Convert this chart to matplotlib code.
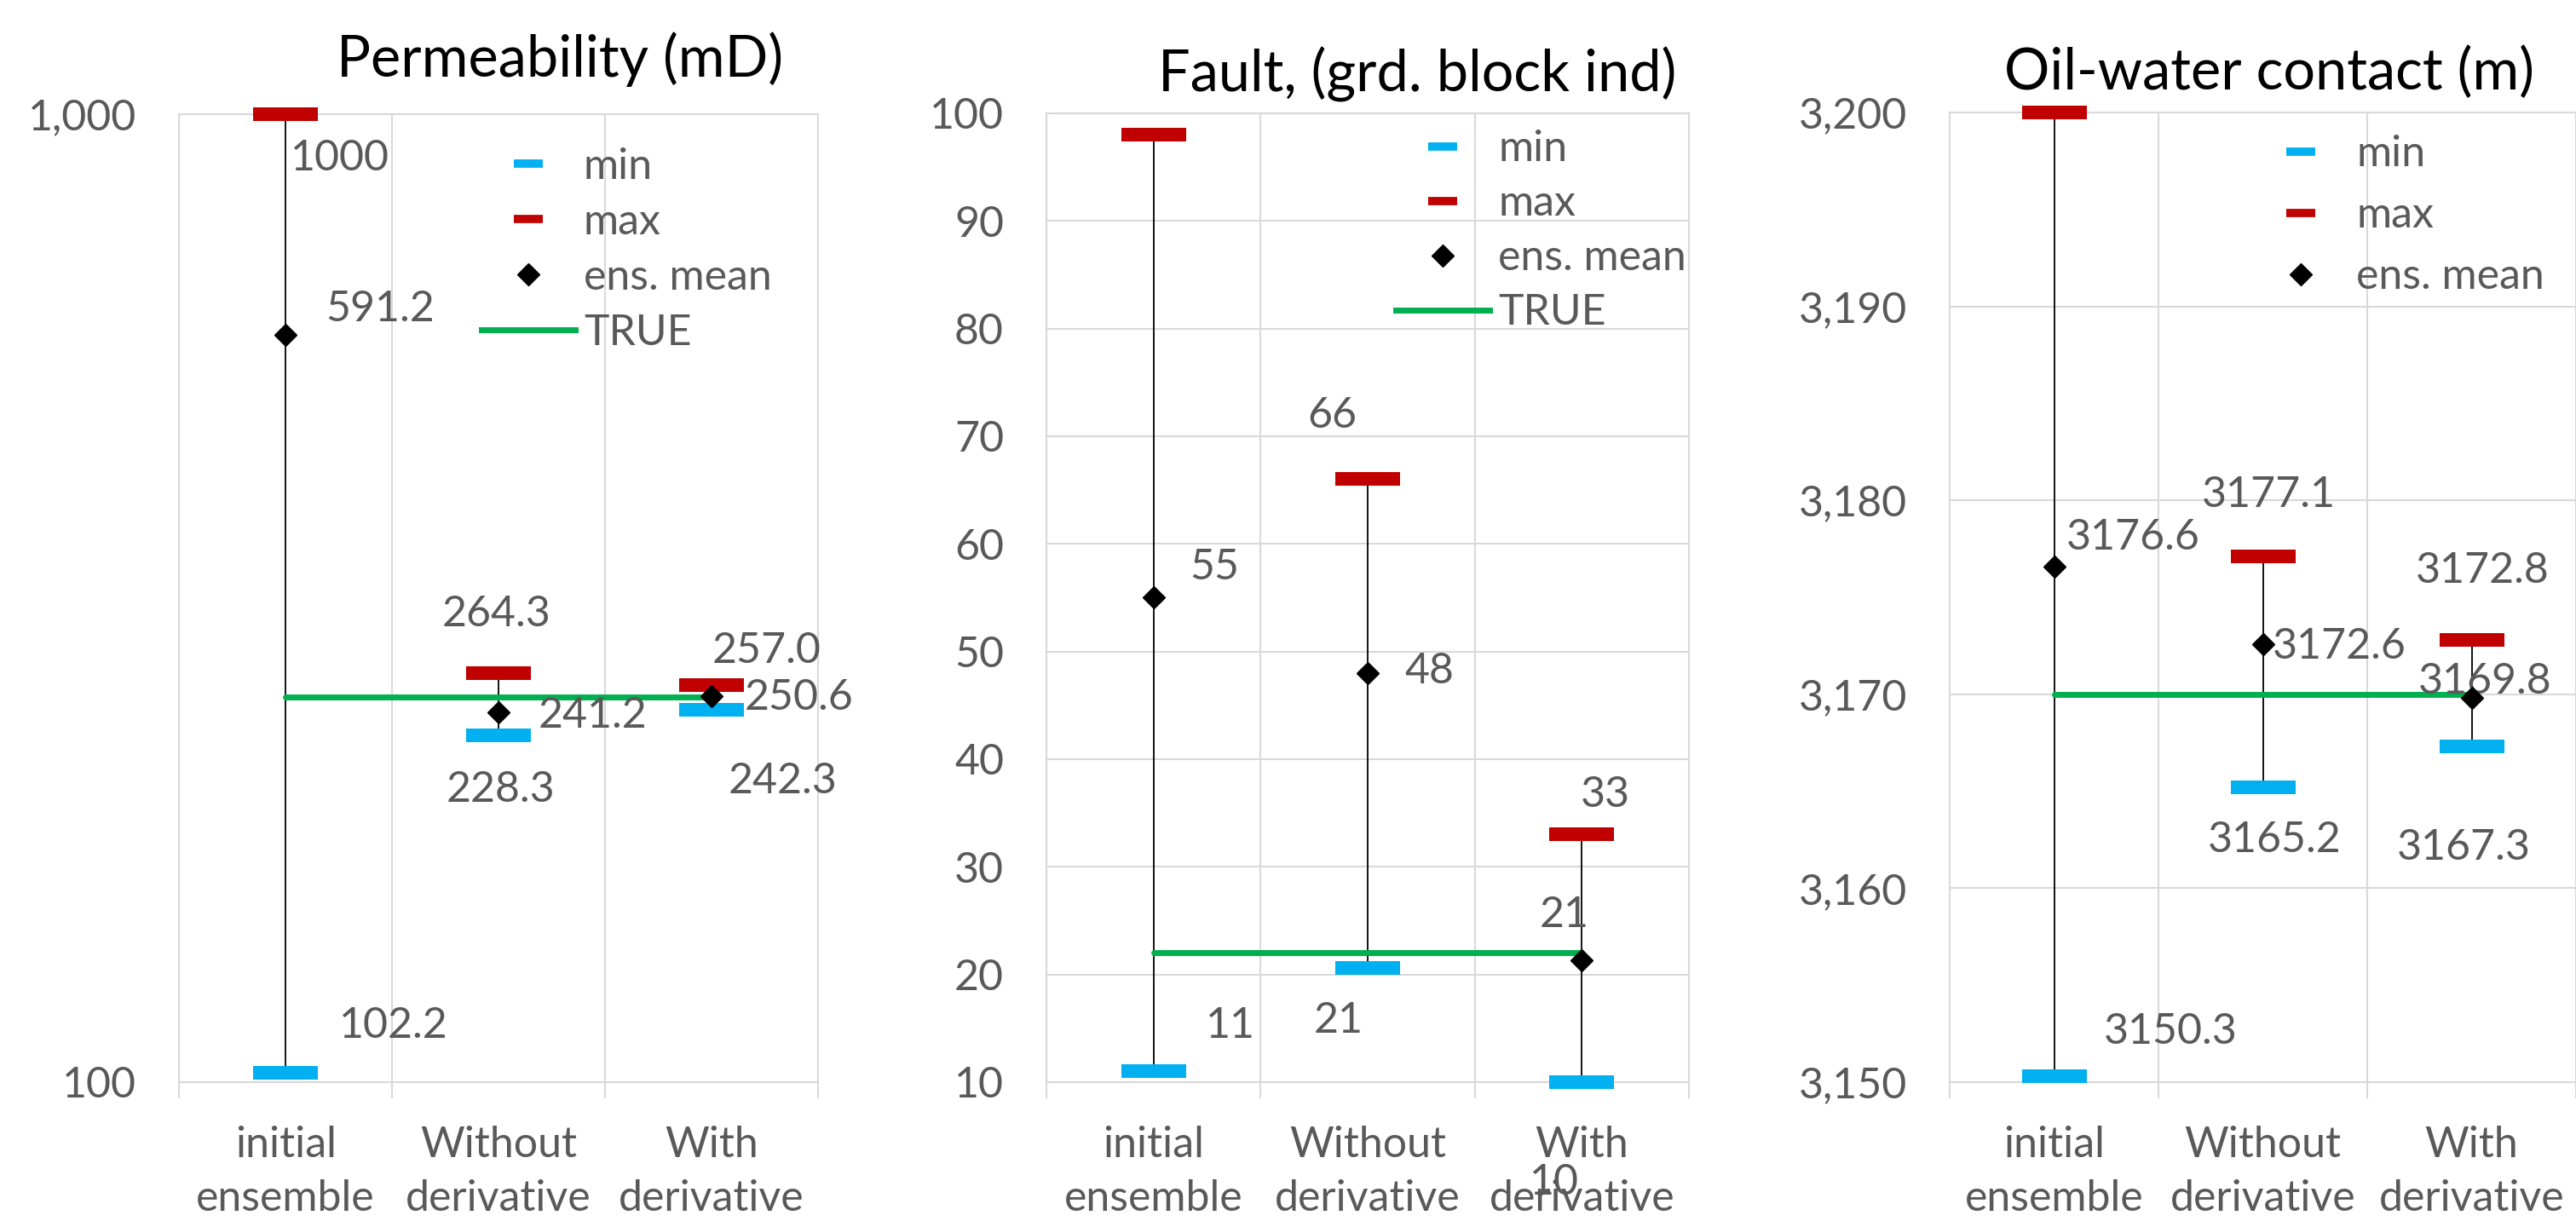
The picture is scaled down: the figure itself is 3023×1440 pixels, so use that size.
import numpy as np
import matplotlib.pyplot as plt
from matplotlib.lines import Line2D
from matplotlib.ticker import FuncFormatter, NullLocator

plt.rcParams['font.family'] = ['Lato', 'DejaVu Sans']

categories = ['initial\nensemble', 'Without\nderivative', 'With\nderivative']

# permeability (mD)
perm_min = [102.2, 228.3, 242.3]
perm_max = [1000.0, 264.3, 257.0]
perm_mean = [591.2, 241.2, 250.6]
perm_true = [250, 250, 250]

# fault (grid block index)
fault_min = [11, 20.6, 10]
fault_max = [98, 66, 33]
fault_mean = [55, 48, 21.3]
fault_true = [22, 22, 22]

# oil-water contact (m)
owc_min = [3150.3, 3165.2, 3167.3]
owc_max = [3200.0, 3177.1, 3172.8]
owc_mean = [3176.6, 3172.6, 3169.8]
owc_true = [3170, 3170, 3170]

CYAN = '#00B0F0'
RED = '#C00000'
GREEN = '#00B050'
GRID = '#D9D9D9'
TXT = '#595959'
FS = 36


def fmt_perm(v):
    return f'{v:.0f}' if v >= 1000 else f'{v:.1f}'


def fmt_fault(v):
    return f'{v:.0f}'


def fmt_owc(v):
    return f'{v:.1f}'


# label offsets in pixels (dx, dy downwards); missing key -> no label
off_perm = {('max', 0): (64, 52), ('max', 1): (-3, -69), ('max', 2): (64, -40),
            ('mean', 0): (111, -30), ('mean', 1): (110, 4), ('mean', 2): (102, 2),
            ('min', 0): (127, -55), ('min', 1): (2, 64), ('min', 2): (83, 84)}
off_fault = {('max', 1): (-42, -74), ('max', 2): (27, -46),
             ('mean', 0): (72, -35), ('mean', 1): (72, -2), ('mean', 2): (-21, -53),
             ('min', 0): (90, -53), ('min', 1): (-34, 62), ('min', 2): (-33, 118)}
off_owc = {('max', 1): (7, -72), ('max', 2): (13, -81),
           ('mean', 0): (93, -34), ('mean', 1): (90, 3), ('mean', 2): (16, -19),
           ('min', 0): (137, -52), ('min', 1): (14, 62), ('min', 2): (-9, 119)}

fig = plt.figure(figsize=(30.23, 14.4), dpi=100)

panels = [
    ([0.0695, 0.1181, 0.2481, 0.7888], perm_min, perm_max, perm_mean, perm_true, off_perm, fmt_perm,
     'Permeability (mD)', 657, 90, True),
    ([0.4062, 0.1181, 0.2495, 0.7896], fault_min, fault_max, fault_mean, fault_true, off_fault, fmt_fault,
     'Fault, (grd. block ind)', 1663, 107, True),
    ([0.7569, 0.1181, 0.2431, 0.7903], owc_min, owc_max, owc_mean, owc_true, off_owc, fmt_owc,
     'Oil-water contact (m)', 2663, 105, False),
]

x = np.arange(len(categories))

for i, (pos, mins, maxs, means, true, offs, fmt, title, tx, ty, show_true) in enumerate(panels):
    ax = fig.add_axes(pos)
    ax.vlines(x, mins, maxs, color='black', lw=1.3, zorder=2)
    ax.plot(x, true, color=GREEN, lw=5, zorder=3, solid_capstyle='round')
    ax.plot(x, mins, ls='none', marker='_', ms=55, mew=11.5, color=CYAN, zorder=4, clip_on=False)
    ax.plot(x, maxs, ls='none', marker='_', ms=55, mew=11.5, color=RED, zorder=4, clip_on=False)
    ax.plot(x, means, ls='none', marker='D', ms=13.5, color='black', zorder=5, clip_on=False)

    for name, vals in (('min', mins), ('max', maxs), ('mean', means)):
        for j, v in enumerate(vals):
            if (name, j) in offs:
                dx, dy = offs[(name, j)]
                ax.annotate(fmt(v), (x[j], v), xytext=(dx, -dy), textcoords='offset pixels',
                            ha='center', va='center', fontsize=FS, color=TXT, annotation_clip=False)

    ax.set_xlim(-0.5, 2.5)
    if i == 0:
        ax.set_yscale('log')
        ax.set_ylim(100, 1000)
        ax.set_yticks([100, 1000])
        ax.yaxis.set_minor_locator(NullLocator())
    elif i == 1:
        ax.set_ylim(10, 100)
        ax.set_yticks(np.arange(10, 101, 10))
    else:
        ax.set_ylim(3150, 3200)
        ax.set_yticks(np.arange(3150, 3201, 10))
    ax.yaxis.set_major_formatter(FuncFormatter(lambda v, p: f'{v:,.0f}'))

    ax.set_xticks(x)
    ax.set_xticklabels(categories, linespacing=1.45)
    ax.set_xticks([-0.5, 0.5, 1.5, 2.5], minor=True)
    ax.tick_params(axis='x', which='major', length=0, pad=37, labelsize=FS, labelcolor=TXT)
    ax.tick_params(axis='x', which='minor', length=14, width=1.5, color=GRID)
    ax.tick_params(axis='y', which='major', length=0, pad=36, labelsize=FS, labelcolor=TXT)
    ax.grid(axis='y', which='major', color=GRID, lw=1.5)
    ax.grid(axis='x', which='minor', color=GRID, lw=1.5)
    ax.set_axisbelow(True)
    for s in ax.spines.values():
        s.set_color(GRID)
        s.set_linewidth(1.5)

    handles = [Line2D([], [], ls='none', marker='_', ms=24, mew=7, color=CYAN),
               Line2D([], [], ls='none', marker='_', ms=24, mew=7, color=RED),
               Line2D([], [], ls='none', marker='D', ms=13.5, color='black')]
    labels = ['min', 'max', 'ens. mean']
    if show_true:
        handles.append(Line2D([], [], color=GREEN, lw=5))
        labels.append('TRUE')
    lx = [0.473, 0.544, 0.486][i]
    ly = [0.966, 0.983, 0.977][i]
    lsp = [0.38, 0.36, 0.52][i]
    ax.legend(handles, labels, loc='upper left', bbox_to_anchor=(lx, ly), frameon=False,
              fontsize=FS, labelcolor=TXT, handlelength=2.2, handletextpad=0.2,
              labelspacing=lsp, borderpad=0, borderaxespad=0)

    fig.text(tx / 3023, 1 - ty / 1440, title, ha='center', va='baseline', fontsize=48, color='black')

fig.savefig('out.png', dpi=100)
